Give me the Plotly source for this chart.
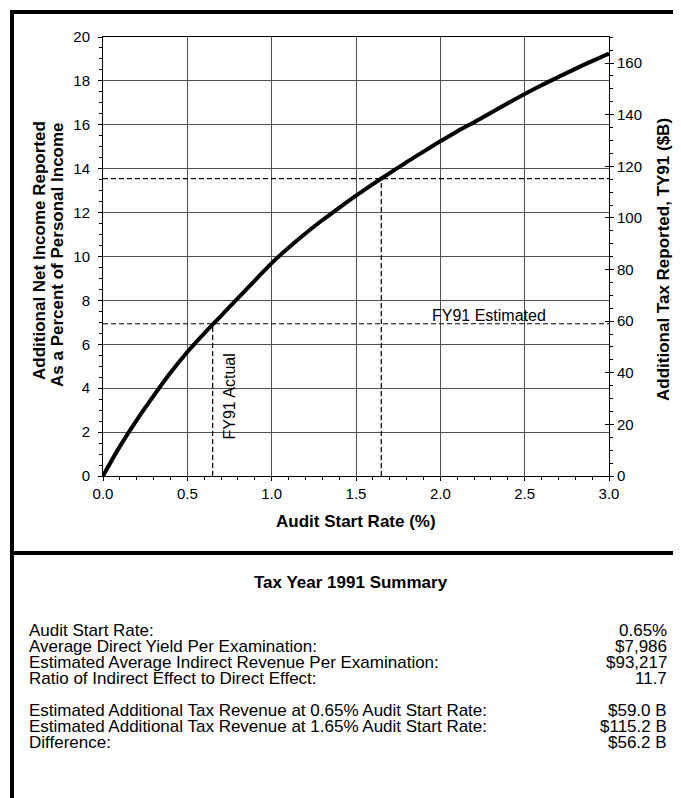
import plotly.graph_objects as go

# ---------------- data ----------------
audit_rate = [0.0, 0.1, 0.2, 0.3, 0.4, 0.5, 0.6, 0.7, 0.8, 0.9, 1.0,
              1.1, 1.2, 1.3, 1.4, 1.5, 1.6, 1.7, 1.8, 1.9, 2.0,
              2.1, 2.2, 2.3, 2.4, 2.5, 2.6, 2.7, 2.8, 2.9, 3.0]
income_pct = [0.0, 1.35, 2.55, 3.65, 4.7, 5.65, 6.5, 7.3, 8.1, 8.9, 9.7,
              10.4, 11.05, 11.65, 12.22, 12.77, 13.3, 13.8, 14.3, 14.78, 15.25,
              15.7, 16.12, 16.55, 16.98, 17.4, 17.8, 18.18, 18.55, 18.9, 19.25]

ref_rates = [0.65, 1.65]          # FY91 actual / estimated audit start rates
ref_tax = [59.0, 115.2]           # additional tax ($B) at those rates

x_tickvals = [0.0, 0.5, 1.0, 1.5, 2.0, 2.5, 3.0]
x_ticktext = ["0.0", "0.5", "1.0", "1.5", "2.0", "2.5", "3.0"]

summary_labels = [
    "Audit Start Rate:",
    "Average Direct Yield Per Examination:",
    "Estimated Average Indirect Revenue Per Examination:",
    "Ratio of Indirect Effect to Direct Effect:",
    "",
    "Estimated Additional Tax Revenue at 0.65% Audit Start Rate:",
    "Estimated Additional Tax Revenue at 1.65% Audit Start Rate:",
    "Difference:",
]
summary_values = ["0.65%", "$7,986", "$93,217", "11.7", "", "$59.0 B", "$115.2 B", "$56.2 B"]

# ---------------- layout helpers ----------------
W, H = 681, 798
OFF = 8                      # page body margin
L, R, T, B = 95, 601, 29, 468  # plot area in figure pixels
Y2MAX = 170.1


def xp(px):
    """viewport x pixel -> paper coordinate"""
    return (px - OFF - L) / (R - L)


def yp(py):
    """viewport y pixel -> paper coordinate"""
    return (B - (py - OFF)) / (B - T)


FONT = "Liberation Sans, Arial, sans-serif"

fig = go.Figure()

# dashed reference lines (on right axis, $B)
for r, t in zip(ref_rates, ref_tax):
    fig.add_trace(go.Scatter(x=[0, 3.0], y=[t, t], yaxis="y2", mode="lines",
                             line=dict(color="black", width=1.2, dash="5px,3px"),
                             hoverinfo="skip", showlegend=False))
    fig.add_trace(go.Scatter(x=[r, r], y=[0, t], yaxis="y2", mode="lines",
                             line=dict(color="black", width=1.2, dash="5px,3px"),
                             hoverinfo="skip", showlegend=False))

# helper (empty) trace so the inner right-axis tick marks are drawn
fig.add_trace(go.Scatter(x=[], y=[], yaxis="y3", showlegend=False, hoverinfo="skip"))

# main curve
fig.add_trace(go.Scatter(x=audit_rate, y=income_pct, mode="lines",
                         line=dict(color="black", width=4, shape="spline"),
                         showlegend=False))

axis_common = dict(showline=True, linecolor="black", linewidth=1,
                   tickfont=dict(family=FONT, size=15, color="black"),
                   ticks="outside", tickcolor="black", ticklen=4, tickwidth=1,
                   zeroline=False)

fig.update_layout(
    width=W, height=H,
    margin=dict(l=L, r=W - R, t=T, b=H - B),
    paper_bgcolor="white", plot_bgcolor="white",
    font=dict(family=FONT, color="black"),
    xaxis=dict(range=[0, 3.0], tickvals=x_tickvals, ticktext=x_ticktext,
               showgrid=True, gridcolor="#505050", gridwidth=1, mirror=True,
               minor=dict(dtick=0.1, ticks="outside", ticklen=3, tickcolor="black", showgrid=False),
               **axis_common),
    yaxis=dict(range=[0, 20], dtick=2, showgrid=True, gridcolor="#505050", gridwidth=1,
               ticklabelstandoff=5,
               minor=dict(dtick=0.5, ticks="outside", ticklen=3, tickcolor="black", showgrid=False),
               **axis_common),
    yaxis2=dict(range=[0, Y2MAX], dtick=20, overlaying="y", side="right", showgrid=False,
                minor=dict(dtick=5, ticks="outside", ticklen=3, tickcolor="black", showgrid=False),
                **axis_common),
    yaxis3=dict(range=[0, Y2MAX], dtick=20, overlaying="y", side="right", showgrid=False,
                showline=False, zeroline=False, showticklabels=False,
                ticks="inside", ticklen=4, tickcolor="black", tickwidth=1),
)

ann = []
# axis titles
ann.append(dict(text="<b>Audit Start Rate (%)</b>", x=xp(356), y=yp(521), xref="paper", yref="paper",
                showarrow=False, font=dict(size=17, family=FONT), xanchor="center", yanchor="middle"))
ann.append(dict(text="<b>Additional Net Income Reported</b>",
                x=xp(40), y=yp(251), xref="paper", yref="paper", textangle=-90,
                showarrow=False, font=dict(size=17, family=FONT), xanchor="center", yanchor="middle"))
ann.append(dict(text="<b>As a Percent of Personal Income</b>",
                x=xp(58), y=yp(255), xref="paper", yref="paper", textangle=-90,
                showarrow=False, font=dict(size=17, family=FONT), xanchor="center", yanchor="middle"))
ann.append(dict(text="<b>Additional Tax Reported, TY91 ($B)</b>",
                x=xp(663), y=yp(260), xref="paper", yref="paper", textangle=-90,
                showarrow=False, font=dict(size=17, family=FONT), xanchor="center", yanchor="middle"))
# reference labels
ann.append(dict(text="FY91 Estimated", x=2.29, y=62.0, xref="x", yref="y2", showarrow=False,
                font=dict(size=16, family=FONT), xanchor="center", yanchor="middle"))
ann.append(dict(text="FY91 Actual", x=0.75, y=3.6, xref="x", yref="y", showarrow=False, textangle=-90,
                font=dict(size=16, family=FONT), xanchor="center", yanchor="middle"))

# summary section
ann.append(dict(text="<b>Tax Year 1991 Summary</b>", x=xp(351), y=yp(582), xref="paper", yref="paper",
                showarrow=False, font=dict(size=17, family=FONT), xanchor="center", yanchor="middle"))
row0, step = 630, 16
for i, (lab, val) in enumerate(zip(summary_labels, summary_values)):
    y = yp(row0 + i * step)
    if lab:
        ann.append(dict(text=lab, x=xp(27), y=y, xref="paper", yref="paper", showarrow=False,
                        font=dict(size=17, family=FONT), xanchor="left", yanchor="middle"))
    if val:
        ann.append(dict(text=val, x=xp(669), y=y, xref="paper", yref="paper", showarrow=False,
                        font=dict(size=17, family=FONT), xanchor="right", yanchor="middle"))
fig.update_layout(annotations=ann)

# frame borders
shapes = [
    dict(type="line", xref="paper", yref="paper", x0=xp(12), x1=xp(12), y0=yp(10), y1=yp(820),
         line=dict(color="black", width=4)),
    dict(type="line", xref="paper", yref="paper", x0=xp(10), x1=xp(700), y0=yp(12), y1=yp(12),
         line=dict(color="black", width=4)),
    dict(type="line", xref="paper", yref="paper", x0=xp(10), x1=xp(700), y0=yp(553), y1=yp(553),
         line=dict(color="black", width=4)),
]
fig.update_layout(shapes=shapes)

fig.write_html("out.html")
